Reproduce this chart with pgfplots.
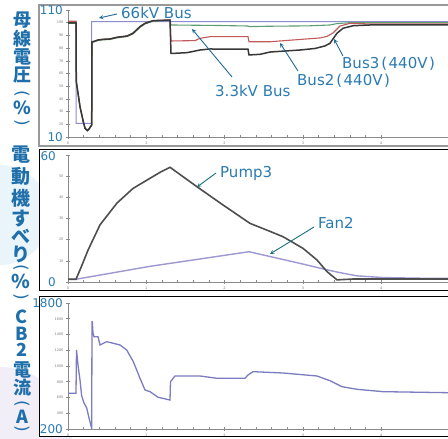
\documentclass[border=0pt]{standalone}
\usepackage{pgfplots}
\pgfplotsset{compat=1.18}
\usepackage{fontspec}
\setmainfont{DejaVu Sans}
\newfontfamily\jp{Noto Sans CJK JP}
\definecolor{lblblue}{HTML}{1E6FAA}
\definecolor{txtblue}{HTML}{2B7BB3}
\definecolor{arrblue}{HTML}{1F6A96}
\definecolor{arrteal}{HTML}{17727A}
\definecolor{kv66}{HTML}{8C8CD2}
\definecolor{kv33}{HTML}{5E9E70}
\definecolor{bustwo}{HTML}{C25A5A}
\definecolor{busthree}{HTML}{383838}
\definecolor{pump}{HTML}{4E4E4E}
\definecolor{fan}{HTML}{9C98D0}
\definecolor{cur}{HTML}{7C7CC0}
\definecolor{axgray}{HTML}{8A8A8A}
\pgfplotsset{
  panel/.style={
    scale only axis, width=380pt, anchor=south west,
    axis lines*=left,
    axis line style={axgray, line width=0.8pt},
    xmin=0, xmax=380,
    xtick={0,78.3,156.6,234.9,313.2}, xticklabels={0,1,2,3,4},
    minor x tick num=4,
    tick align=center,
    major tick length=4pt, minor tick length=3pt,
    tick style={axgray, line width=0.5pt},
    ticklabel style={font=\fontsize{3.5}{4}\selectfont, text=gray},
    /pgf/number format/assume math mode=true,
    xticklabel style={yshift=1pt},
    yticklabel style={xshift=1pt},
  }
}
\tikzset{
  ylbl/.style={font=\jp\bfseries\fontsize{18}{18}\selectfont, text=lblblue, inner sep=0pt},
  par/.style={font=\fontsize{17}{17}\selectfont, text=lblblue, inner sep=0pt, rotate=-90},
  ann/.style={font=\fontsize{15}{18}\selectfont, text=txtblue, inner sep=0pt, anchor=base west},
  tl/.style={font=\fontsize{12}{12}\selectfont, text=txtblue, inner sep=0pt, anchor=east},
}
\begin{document}
\begin{tikzpicture}
\path[use as bounding box] (0,0) rectangle (448pt,439pt);
% faint background decorations
\fill[color={rgb,255:red,234;green,244;blue,251}] (0pt,224pt) circle (50pt);
\fill[color={rgb,255:red,241;green,238;blue,248}] (0pt,0pt) circle (72pt);
% frames
\draw[color=gray!80, line width=1.5pt, fill=white] (39pt,293pt) rectangle (452pt,434pt);
\draw[color=black, line width=1pt, fill=white] (39pt,148pt) rectangle (452pt,289pt);
\draw[color=black, line width=1pt, fill=white] (39pt,2pt) rectangle (452pt,142pt);

% ---------- panel 1 : bus voltage ----------
\begin{axis}[panel, at={(68pt,302pt)}, height=127pt,
  ymin=10, ymax=110, ytick={10,20,...,110},
  yticklabels={,20,30,40,50,60,70,80,90,100,}]
\addplot[kv66, line width=1pt] coordinates {
(0,100.8) (8,100.8) (8.01,20.8) (23.7,20.8) (23.71,100.8) (380,100.8)};
\addplot[kv33, line width=1.1pt] coordinates {
(0,99.6) (8,99.6) (8.3,53.5) (12,33.9) (15.3,22.0) (17,16.9) (19.3,15.0) (21,16.3) (23.7,19.4) (24,84.6) (25,84.6) (30,86.0) (35,86.5) (42,86.8) (49,88.1) (59,89.1) (65,91.2) (72,96.3) (77,99.0) (85,101.2) (102,101.8) (103,98.2) (150,97.8) (180,97.4) (181,96.9) (200,97.2) (240,97.5) (262,98.2) (269,99.3) (282,100.0) (380,100.0)};
\addplot[bustwo, line width=1.1pt] coordinates {
(0,101.1) (8,101.1) (8.3,53.5) (12,33.9) (15.3,22.0) (17,16.9) (19.3,15.0) (21,16.3) (23.7,19.4) (24,85.0) (25,85.0) (30,86.4) (35,86.9) (42,87.2) (49,88.5) (59,89.5) (65,91.7) (72,96.9) (77,99.5) (85,101.6) (102,102.1) (103,85.6) (127,85.9) (132,87.7) (142,89.0) (180,89.0) (181,85.0) (202,85.0) (232,86.8) (252,88.0) (259,89.2) (265,91.9) (272,97.4) (282,99.5) (302,99.0) (380,99.0)};
\addplot[busthree, line width=1.5pt] coordinates {
(0,99.8) (8,99.8) (8.3,53.5) (12,33.9) (15.3,22.0) (17,16.9) (19.3,15.0) (21,16.3) (23.7,19.4) (24,85.0) (25,85.0) (30,86.4) (35,86.9) (42,87.2) (49,88.5) (59,89.5) (65,91.7) (72,96.9) (77,99.5) (85,101.6) (102,102.1) (103,75.9) (107,75.9) (119,76.4) (132,78.5) (142,79.3) (180,79.1) (181,74.6) (192,75.1) (202,76.9) (232,78.5) (247,79.7) (257,81.7) (262,83.8) (269,91.7) (275,95.6) (285,97.6) (302,98.2) (380,98.2)};
\end{axis}

% ---------- panel 2 : motor slip ----------
\begin{axis}[panel, at={(68pt,157pt)}, height=127pt,
  ymin=0, ymax=60, ytick={0,10,...,60},
  yticklabels={,10,20,30,40,50,}]
\addplot[fan, line width=1.4pt] coordinates {
(0,1.3) (8,1.3) (82,7.4) (181,14.3) (232,8.8) (255,6.2) (270,4.6) (289,2.9) (315,2.1) (350,1.8) (380,1.7)};
\addplot[pump, line width=1.6pt] coordinates {
(0,1.3) (8,1.3) (12,5.7) (20,15) (32,27) (49,37.3) (65,44.2) (82,49) (92,51.8) (102,54.2) (129,45) (155,36.4) (182,27.7) (200,24.3) (215,21.4) (235,15.9) (249,10.4) (259,4.9) (269,1.0) (285,1.4) (380,1.4)};
\end{axis}

% ---------- panel 3 : CB2 current ----------
\begin{axis}[panel, at={(68pt,10pt)}, height=126pt,
  ymin=200, ymax=1800, ytick={200,400,...,1800},
  yticklabels={,400,600,800,1000,1200,1400,1600,}]
\addplot[cur, line width=1.3pt] coordinates {
(0,653) (8,653) (8.5,1203) (10,1013) (12,822) (13.7,619) (16,530) (18.7,467) (21,340) (23.7,209) (24,1563) (24.3,1563) (25,1419) (26,1372) (30,1372) (32,1267) (38.7,1309) (52,1267) (58.7,1203) (65.3,1055) (72,844) (77,695) (82,674) (90,603) (102,568) (102.5,801) (107,873) (132,873) (149,844) (177,844) (180,886) (185,928) (215,911) (249,873) (262,813) (274,737) (289,704) (315,674) (380,661)};
\end{axis}

% ---------- tick labels (blue) ----------
\node[tl] at (63pt,429pt) {110};
\node[tl] at (63pt,302pt) {10};
\node[tl] at (56pt,283pt) {60};
\node[tl] at (56pt,157pt) {0};
\node[tl] at (63pt,136pt) {1800};
\node[tl] at (63pt,10pt) {200};

% ---------- annotations ----------
\node[ann] at (121pt,420.7pt) {66kV Bus};
\draw[arrblue, line width=0.9pt, -stealth] (117pt,425pt) -- (99pt,421pt);
\node[ann] at (215pt,342.3pt) {3.3kV Bus};
\draw[arrblue, line width=0.9pt, -stealth] (232pt,362pt) -- (192pt,410pt);
\node[ann] at (297pt,353pt) {Bus2\hspace{2pt}(\hspace{1.5pt}440V\hspace{1.5pt})};
\draw[arrblue, line width=0.9pt, -stealth] (298pt,368pt) -- (280pt,396pt);
\node[ann] at (342pt,370.7pt) {Bus3\hspace{2pt}(\hspace{1.5pt}440V\hspace{1.5pt})};
\draw[arrblue, line width=0.9pt, -stealth] (343pt,383pt) -- (334pt,400pt);
\node[ann] at (220pt,261.3pt) {Pump3};
\draw[arrteal, line width=0.9pt, -stealth] (216pt,266pt) -- (197pt,252pt);
\node[ann] at (318pt,210.7pt) {Fan2};
\draw[arrteal, line width=0.9pt, -stealth] (314pt,212pt) -- (270pt,185pt);

% ---------- vertical y labels ----------
\node[ylbl] at (22pt,419pt) {母};
\node[ylbl] at (22pt,400.5pt) {線};
\node[ylbl] at (22pt,382.5pt) {電};
\node[ylbl] at (22pt,364pt) {圧};
\node[par] at (22pt,345.5pt) {(};
\node[ylbl] at (22pt,331.5pt) {\bfseries\%};
\node[par] at (22pt,316.5pt) {)};

\node[ylbl, font=\jp\bfseries\fontsize{19}{19}\selectfont] at (21pt,284pt) {電};
\node[ylbl, font=\jp\bfseries\fontsize{19}{19}\selectfont] at (21pt,262.5pt) {動};
\node[ylbl, font=\jp\bfseries\fontsize{19}{19}\selectfont] at (21pt,240.5pt) {機};
\node[ylbl, font=\jp\bfseries\fontsize{19}{19}\selectfont] at (21pt,220.5pt) {す};
\node[ylbl, font=\jp\bfseries\fontsize{19}{19}\selectfont] at (21pt,202.5pt) {べ};
\node[ylbl, font=\jp\bfseries\fontsize{19}{19}\selectfont] at (21pt,185pt) {り};
\node[par] at (21pt,171.5pt) {(};
\node[ylbl, font=\jp\bfseries\fontsize{19}{19}\selectfont] at (21pt,157.5pt) {\%};
\node[par] at (21pt,142.5pt) {)};

\node[ylbl] at (22pt,122.5pt) {C};
\node[ylbl] at (22pt,105.5pt) {B};
\node[ylbl] at (22pt,89pt) {2};
\node[ylbl] at (22pt,69.5pt) {電};
\node[ylbl] at (22pt,51.5pt) {流};
\node[par] at (22pt,35.5pt) {(};
\node[ylbl] at (22pt,22.5pt) {A};
\node[par] at (22pt,10.5pt) {)};
\end{tikzpicture}
\end{document}
